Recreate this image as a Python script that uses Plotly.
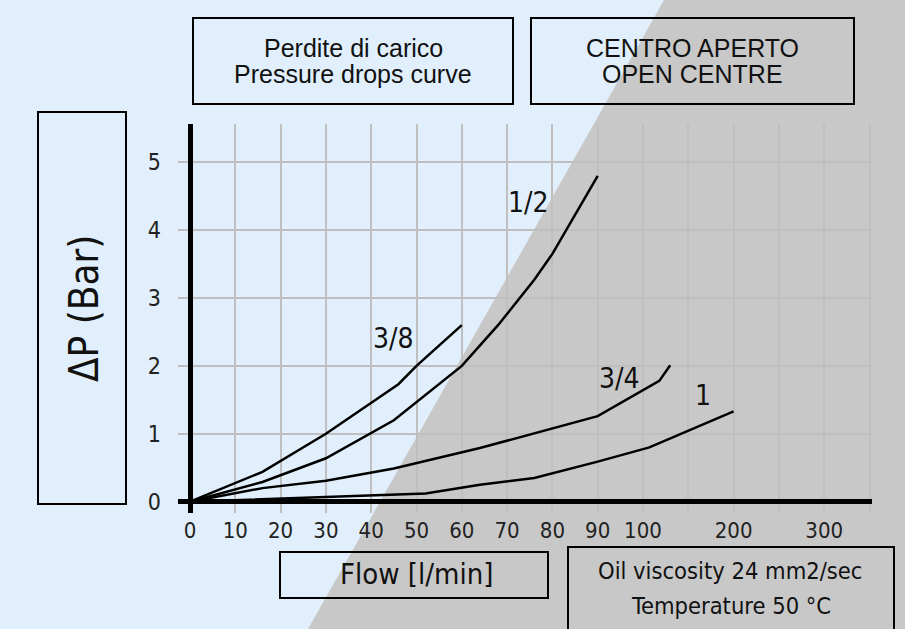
import numpy as np
import plotly.graph_objects as go

# ---------------- data ----------------
FLOW_TICKS = [0, 10, 20, 30, 40, 50, 60, 70, 80, 90, 100, 200, 300]
DP_TICKS = [0, 1, 2, 3, 4, 5]

FLOW_38 = [0, 16, 30, 46, 50, 60]
DP_38 = [0, 0.44, 1.0, 1.73, 2.0, 2.6]

FLOW_12 = [0, 16, 30, 45, 60, 68, 76, 80, 90]
DP_12 = [0, 0.29, 0.64, 1.2, 2.0, 2.6, 3.27, 3.65, 4.8]

FLOW_34 = [0, 16, 30, 45, 64, 90, 118, 130]
DP_34 = [0, 0.2, 0.31, 0.49, 0.79, 1.26, 1.78, 2.01]

FLOW_1 = [0, 52, 64, 76, 90, 107, 200]
DP_1 = [0, 0.12, 0.25, 0.35, 0.59, 0.80, 1.33]

SERIES = [("3/8", FLOW_38, DP_38), ("1/2", FLOW_12, DP_12),
          ("3/4", FLOW_34, DP_34), ("1", FLOW_1, DP_1)]
LABEL_POS = {"3/8": (45, 2.40), "1/2": (74.8, 4.41), "3/4": (94.9, 1.82), "1": (166, 1.57)}

# piecewise flow scale: 0..100 in steps of 10, then 100..300 compressed
SCALE_FLOW = [0, 100, 300]
SCALE_POS = [0, 10, 14]


def flow_scale(f):
    return np.interp(f, SCALE_FLOW, SCALE_POS)


# ---------------- geometry helpers ----------------
W, H = 905, 629
L, R, T, B = 178, 872, 124, 513


def px(x):
    return (x - L) / (R - L)


def py(y):
    return (B - y) / (B - T)


BLUE = "#E0EFFB"
GRAY = "#C8C8C8"
NARROW = "DejaVu Sans Condensed, Liberation Sans Narrow, Roboto, sans-serif"
SANS = "Liberation Sans, Arial, sans-serif"

fig = go.Figure()

for name, fl, dp in SERIES:
    fig.add_trace(go.Scatter(x=flow_scale(fl), y=dp, mode="lines", name=name,
                             line=dict(color="black", width=2.5), showlegend=False,
                             hoverinfo="skip"))

# tick positions (all grid lines 0..15)
grid_pos = list(range(0, 16))
tick_pos_labeled = list(flow_scale(FLOW_TICKS))
ticktext = []
for g in grid_pos:
    if g in tick_pos_labeled:
        ticktext.append(str(FLOW_TICKS[tick_pos_labeled.index(g)]))
    else:
        ticktext.append("")

# background diagonal grey area
shapes = [
    dict(type="path", xref="paper", yref="paper", layer="below",
         path=f"M {px(665.1)} {py(-2)} L {px(910)} {py(-2)} L {px(910)} {py(632)} L {px(306.3)} {py(632)} Z",
         fillcolor=GRAY, line=dict(width=0)),
]


def box(x0, y0, x1, y1):
    return dict(type="rect", xref="paper", yref="paper", x0=px(x0), x1=px(x1),
                y0=py(y1), y1=py(y0), line=dict(color="black", width=2),
                fillcolor="rgba(0,0,0,0)", layer="above")


shapes += [box(193, 18, 513, 104), box(531, 18, 854, 104), box(38, 112, 126, 504),
           box(280, 552, 548, 598), box(568, 547, 894, 640)]

ann = []


def text(x, y, s, size, family=NARROW, angle=0):
    ann.append(dict(xref="paper", yref="paper", x=px(x), y=py(y), text=s, showarrow=False,
                    xanchor="center", yanchor="middle", textangle=angle,
                    font=dict(family=family, size=size, color="#111111")))


text(353, 48, "Perdite di carico", 25, SANS)
text(353, 74, "Pressure drops curve", 25, SANS)
text(692, 48, "CENTRO APERTO", 25, SANS)
text(692, 74, "OPEN CENTRE", 25, SANS)
text(84, 309, "ΔP (Bar)", 40, NARROW, -90)
text(416, 574, "Flow [l/min]", 29, NARROW)
text(730, 571, "Oil viscosity 24 mm2/sec", 23.5, NARROW)
text(731, 606, "Temperature 50 °C", 23.5, NARROW)

for name, (fx, v) in LABEL_POS.items():
    ann.append(dict(x=float(flow_scale(fx)), y=v, xref="x", yref="y", text=name,
                    showarrow=False, xanchor="center", yanchor="middle",
                    font=dict(family=NARROW, size=28, color="#111111")))

fig.update_layout(
    width=W, height=H,
    margin=dict(l=L, r=W - R, t=T, b=H - B),
    paper_bgcolor=BLUE, plot_bgcolor="rgba(0,0,0,0)",
    shapes=shapes, annotations=ann, showlegend=False,
    xaxis=dict(range=[-(190 - L) / 45.3, (R - 190) / 45.3], tickmode="array",
               tickvals=grid_pos, ticktext=ticktext, showgrid=True,
               gridcolor="#BFBFBF", gridwidth=2, zeroline=True, zerolinecolor="black",
               zerolinewidth=5, showline=False, ticks="", ticklabelstandoff=2,
               tickfont=dict(family=NARROW, size=22, color="#222222")),
    yaxis=dict(range=[-(B - 501.7) / 67.9, (501.7 - T) / 67.9], tickmode="array",
               tickvals=DP_TICKS, showgrid=True, gridcolor="#BFBFBF", gridwidth=2,
               zeroline=True, zerolinecolor="black", zerolinewidth=5, showline=False,
               ticks="", ticklabelstandoff=16,
               tickfont=dict(family=NARROW, size=23, color="#222222")),
)

fig.write_html("out.html", config={"displayModeBar": False},
               post_script="document.body.style.margin='0';document.body.style.padding='0';"
                           "document.body.style.overflow='hidden';"
                           "document.body.style.background='" + BLUE + "';")
